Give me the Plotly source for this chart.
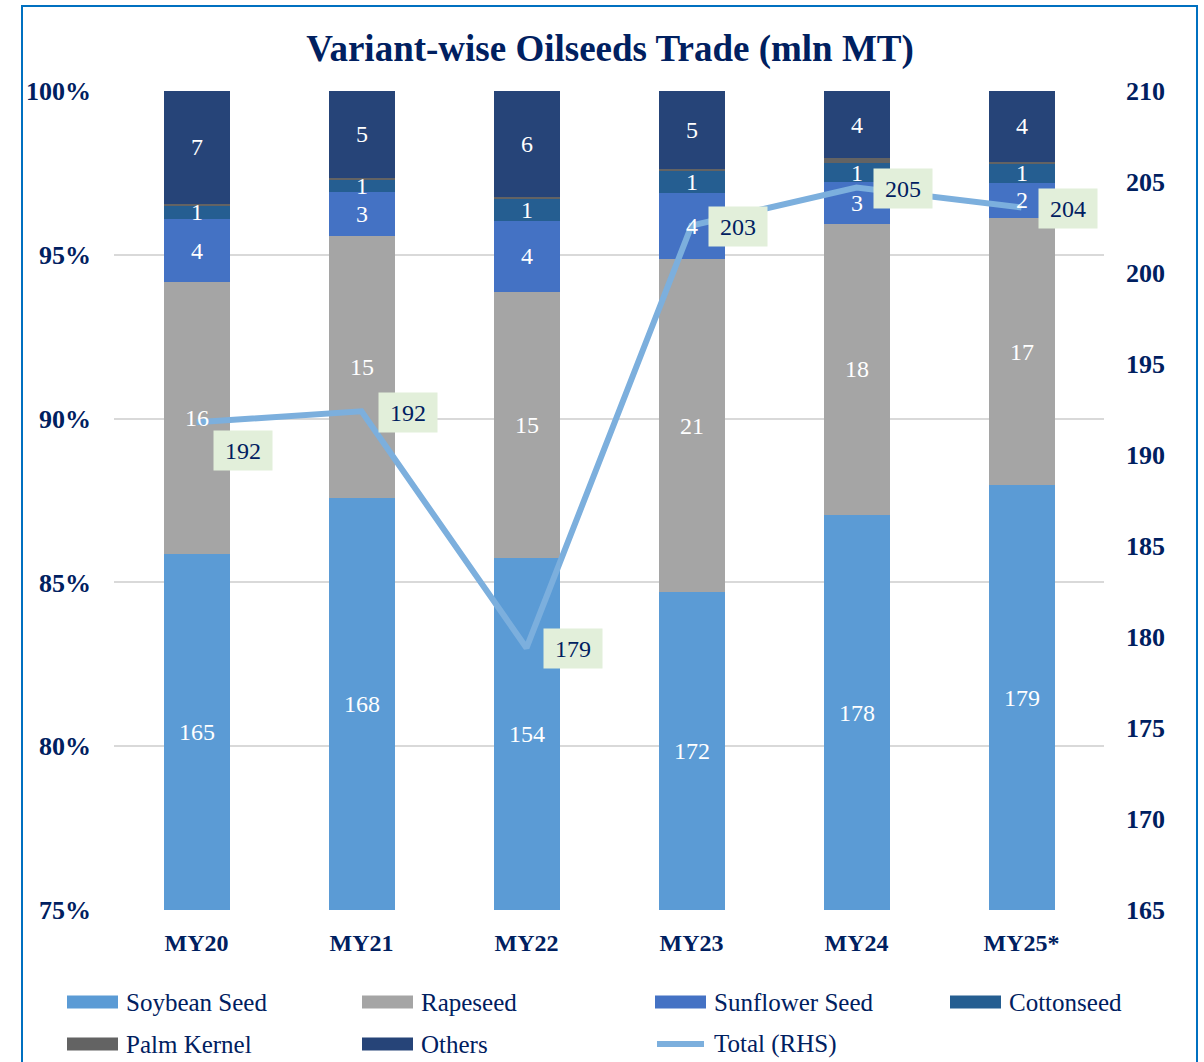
import plotly.graph_objects as go

# Values in mln MT
years = ["MY20", "MY21", "MY22", "MY23", "MY24", "MY25*"]
soybean = [164.8, 168.4, 153.8, 171.6, 178.2, 179.2]
rapeseed = [15.9, 15.4, 14.6, 20.6, 18.2, 16.6]
sunflower = [3.7, 2.6, 3.9, 4.1, 2.6, 2.2]
cottonseed = [0.8, 0.7, 1.2, 1.4, 1.2, 1.2]
palm_kernel = [0.1, 0.1, 0.1, 0.1, 0.3, 0.1]
others = [6.6, 5.1, 5.8, 4.8, 4.2, 4.4]
total = [191.8, 192.4, 179.4, 202.6, 204.7, 203.6]

series = [
    ("Soybean Seed", soybean, "#5B9BD5", True),
    ("Rapeseed", rapeseed, "#A5A5A5", True),
    ("Sunflower Seed", sunflower, "#4472C4", True),
    ("Cottonseed", cottonseed, "#255E91", True),
    ("Palm Kernel", palm_kernel, "#636363", False),
    ("Others", others, "#264478", True),
]

NAVY = "#002060"
FONT = "Liberation Serif"
LINE_COLOR = "#7CAFDD"

W, H = 1204, 1062
L, R, T, B = 114, 1104, 91, 910  # plot area in pixels


def px_x(x):
    return (x - L) / (R - L)


def px_y(y):
    return (B - y) / (B - T)


sums = [sum(s[1][i] for s in series) for i in range(len(years))]

fig = go.Figure()
annotations = []
cum = [0.0] * len(years)
for name, vals, color, labelled in series:
    shares = [v / s * 100 for v, s in zip(vals, sums)]
    fig.add_trace(go.Bar(x=years, y=shares, name=name, marker=dict(color=color, line=dict(width=0)),
                         width=0.4, showlegend=False))
    for i, yr in enumerate(years):
        lo, hi = cum[i], cum[i] + shares[i]
        if labelled:
            # label sits in the middle of the visible part of the segment
            mid = (max(lo, 75) + hi) / 2
            annotations.append(dict(x=yr, y=mid, xref="x", yref="y", text=f"{vals[i]:.0f}",
                                    showarrow=False, font=dict(family=FONT, size=24, color="white")))
        cum[i] = hi

fig.add_trace(go.Scatter(x=years, y=total, name="Total (RHS)", yaxis="y2", mode="lines",
                         line=dict(color=LINE_COLOR, width=6), showlegend=False))

for i, yr in enumerate(years):
    annotations.append(dict(x=yr, y=total[i], xref="x", yref="y2", text=f"{total[i]:.0f}",
                            showarrow=False, xshift=46, yshift=-28 if i == 0 else -1,
                            width=56, height=37, bgcolor="#E2EFDA",
                            font=dict(family=FONT, size=24, color=NAVY)))

# manual legend, Excel style swatches
legend_items = [
    ("Soybean Seed", "#5B9BD5", 67, 1002, "bar"),
    ("Rapeseed", "#A5A5A5", 362, 1002, "bar"),
    ("Sunflower Seed", "#4472C4", 655, 1002, "bar"),
    ("Cottonseed", "#255E91", 950, 1002, "bar"),
    ("Palm Kernel", "#636363", 67, 1044, "bar"),
    ("Others", "#264478", 362, 1044, "bar"),
    ("Total (RHS)", LINE_COLOR, 655, 1044, "line"),
]
shapes = []
for name, color, x0, yc, kind in legend_items:
    if kind == "bar":
        shapes.append(dict(type="rect", xref="paper", yref="paper", x0=px_x(x0), x1=px_x(x0 + 51),
                           y0=px_y(yc - 6.5), y1=px_y(yc + 6.5), fillcolor=color, line=dict(width=0)))
    else:
        shapes.append(dict(type="line", xref="paper", yref="paper", x0=px_x(x0 + 2), x1=px_x(x0 + 49),
                           y0=px_y(yc), y1=px_y(yc), line=dict(color=color, width=6)))
    annotations.append(dict(x=px_x(x0 + 57), y=px_y(yc), xref="paper", yref="paper", text=name,
                            showarrow=False, xanchor="left", yanchor="middle",
                            font=dict(family=FONT, size=25, color=NAVY)))

# chart border (bottom edge runs off the picture)
shapes.append(dict(type="rect", xref="paper", yref="paper", x0=px_x(22), x1=px_x(1197),
                   y0=px_y(1100), y1=px_y(6), line=dict(color="#0070C0", width=2)))

tick_font = dict(family=FONT, size=26, color=NAVY, weight="bold")

fig.update_layout(
    width=W, height=H,
    margin=dict(l=L, r=W - R, t=T, b=H - B),
    paper_bgcolor="white", plot_bgcolor="white",
    barmode="stack",
    title=dict(text="<b>Variant-wise Oilseeds Trade (mln MT)</b>", x=610 / W, xanchor="center",
               y=1 - 48 / H, yanchor="middle", font=dict(family=FONT, size=37, color=NAVY)),
    xaxis=dict(showgrid=False, showline=False, ticks="", ticklabelstandoff=16,
               tickfont=dict(family=FONT, size=24, color=NAVY, weight="bold")),
    yaxis=dict(range=[75, 100], dtick=5, ticksuffix="%", showgrid=True, gridcolor="#D9D9D9",
               gridwidth=2, zeroline=False, showline=False, ticks="", ticklabelstandoff=22,
               tickfont=tick_font),
    yaxis2=dict(range=[165, 210], dtick=5, overlaying="y", side="right", showgrid=False,
                zeroline=False, showline=False, ticks="", ticklabelstandoff=21,
                tickfont=tick_font),
    showlegend=False,
    annotations=annotations,
    shapes=shapes,
)

# drop the default page margin so the figure fills the window exactly
fig.write_html("out.html", config={"displayModeBar": False},
               post_script="document.body.style.margin='0';document.body.style.overflow='hidden';")
